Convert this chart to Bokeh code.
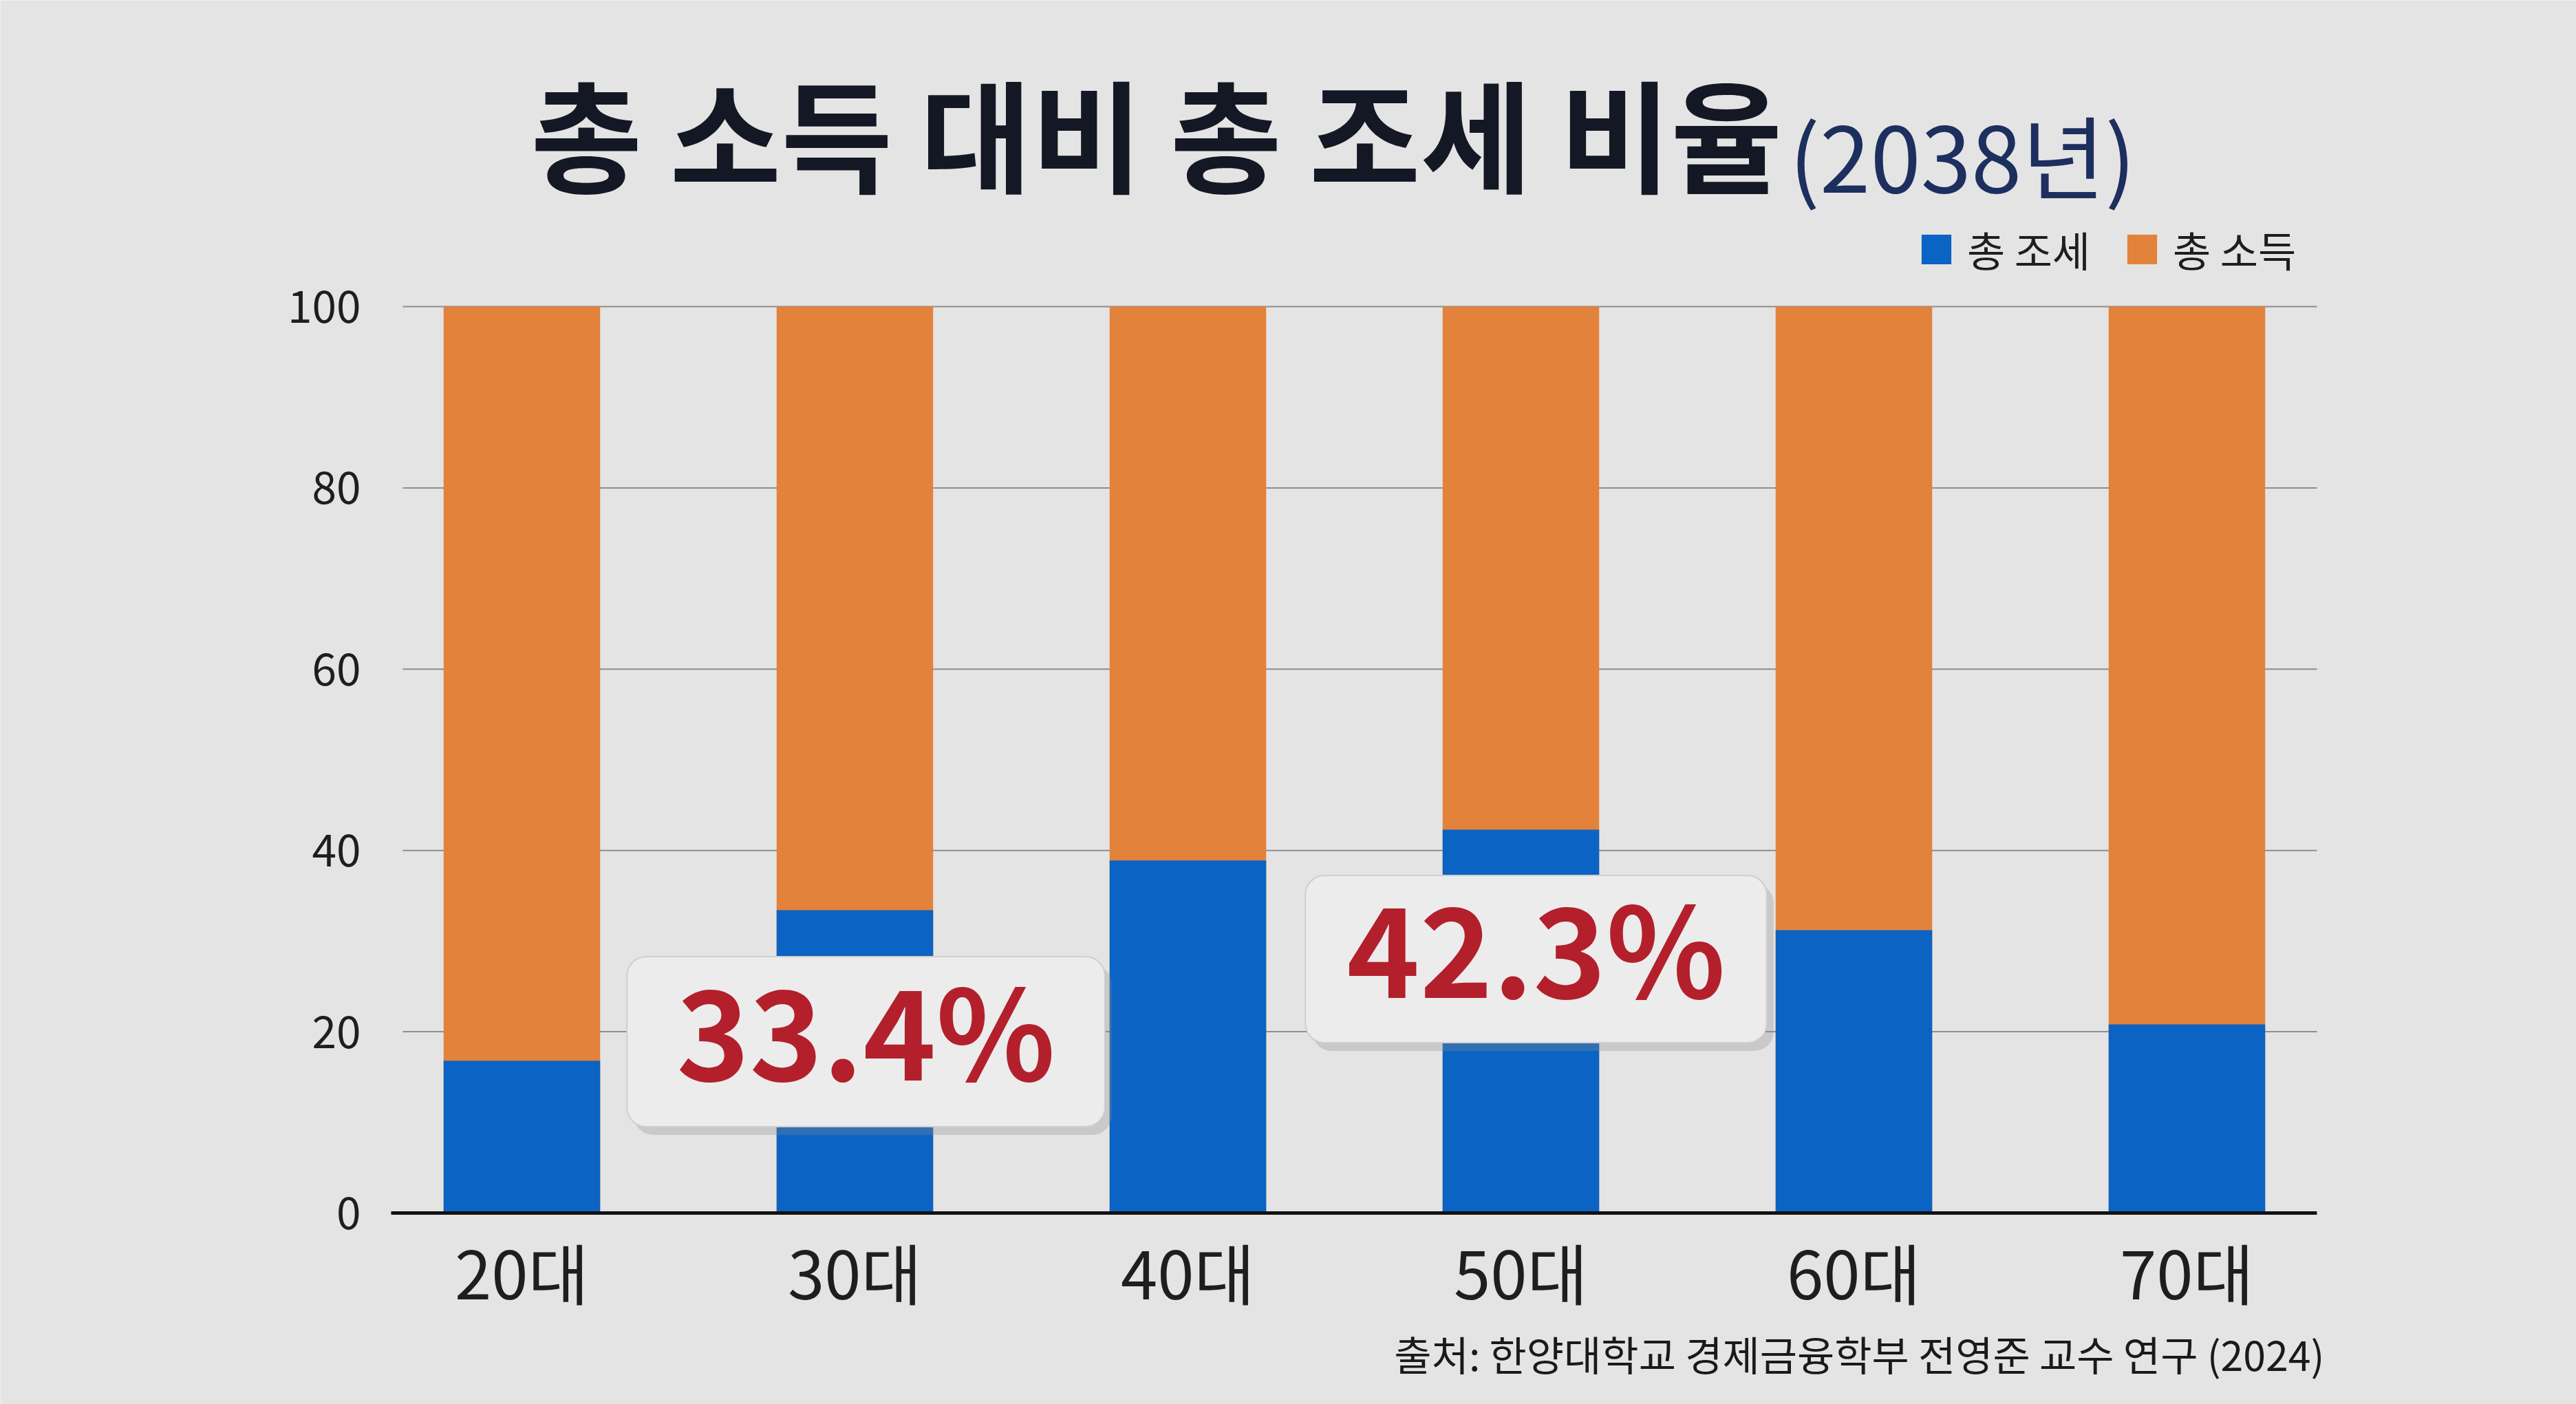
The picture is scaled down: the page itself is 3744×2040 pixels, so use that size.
from bokeh.plotting import figure
from bokeh.models import Range1d, Label, Legend, LegendItem, ColumnDataSource
from bokeh.core.properties import value
from bokeh.embed import file_html
from bokeh.resources import INLINE

# ---- data ----
categories = ["20대", "30대", "40대", "50대", "60대", "70대"]
total_tax = [16.8, 33.4, 38.9, 42.3, 31.2, 20.8]      # 총 조세 (%)
total_income = [100, 100, 100, 100, 100, 100]         # 총 소득 (%)
y_ticks = [0, 20, 40, 60, 80, 100]
y_tick_labels = ["0", "20", "40", "60", "80", "100"]
callouts = [("30대", "33.4%"), ("50대", "42.3%")]
title_main = "총 소득 대비 총 조세 비율"
title_sub = "(2038년)"
source_note = "출처: 한양대학교 경제금융학부 전영준 교수 연구 (2024)"

BLUE = "#0b63c4"
ORANGE = "#e3823b"
BG = "#e4e4e4"
BOX = "#ececec"
SHADOW = "#8a8a8a"
KR = "Noto Sans CJK KR"

W, H = 3744, 2040
# layout geometry (canvas px): category centres, value 0 / 100 rows
PX_PER_CAT = 484.0
FIRST_CENTER = 758.0
Y0, Y100 = 1762.0, 445.0
PX_PER_UNIT = (Y0 - Y100) / 100.0

x_start = -FIRST_CENTER / PX_PER_CAT
x_end = x_start + W / PX_PER_CAT
y_start = -(H - Y0) / PX_PER_UNIT
y_end = 100 + Y100 / PX_PER_UNIT

def dx(X):   # canvas x -> data x
    return x_start + X / PX_PER_CAT

def dy(Y):   # canvas y -> data y
    return y_start + (H - Y) / PX_PER_UNIT

idx = list(range(len(categories)))
src = ColumnDataSource(dict(x=idx, cat=categories, tax=total_tax, income=total_income))

p = figure(width=W, height=H, output_backend="svg", toolbar_location=None, title=None,
           x_range=Range1d(x_start, x_end), y_range=Range1d(y_start, y_end),
           x_axis_location=None, y_axis_location=None,
           min_border=0, min_border_left=0, min_border_right=0,
           min_border_top=0, min_border_bottom=0)
p.background_fill_color = BG
p.border_fill_color = BG
p.outline_line_color = None
p.grid.visible = False

# gridlines
gx0, gx1 = dx(585), dx(3367)
p.segment(x0=[gx0] * len(y_ticks[1:]), x1=[gx1] * len(y_ticks[1:]),
          y0=y_ticks[1:], y1=y_ticks[1:], line_color="#8e8e8e", line_width=2)

# bars
r_inc = p.vbar(x="x", top="income", width=0.47, source=src, color=ORANGE, line_color=None)
r_tax = p.vbar(x="x", top="tax", width=0.47, source=src, color=BLUE, line_color=None)

# baseline
p.segment(x0=[dx(568)], x1=[dx(3367)], y0=[0], y1=[0], line_color="#111111", line_width=5)

# y tick labels
p.text(x=[dx(524)] * len(y_ticks), y=y_ticks, text=y_tick_labels,
       text_font=value(KR), text_font_size="64px", text_color="#1e1e1e",
       text_align="right", text_baseline="middle")

# x category labels
p.text(x="x", y=dy(1846), text="cat", source=src,
       text_font=value(KR), text_font_size="96px", text_color="#1e1e1e",
       text_align="center", text_baseline="middle")

# title
p.add_layout(Label(x=2590, y=H - 190, x_units="screen", y_units="screen",
                   text=title_main, text_font=KR, text_font_style="bold",
                   text_font_size="176px", text_color="#141824",
                   text_align="right", text_baseline="middle"))
p.add_layout(Label(x=2600, y=H - 222, x_units="screen", y_units="screen",
                   text=title_sub, text_font=KR, text_font_style="normal",
                   text_font_size="132px", text_color="#1c2f5e",
                   text_align="left", text_baseline="middle"))

# legend
legend = Legend(items=[LegendItem(label="총 조세", renderers=[r_tax]),
                       LegendItem(label="총 소득", renderers=[r_inc])],
                orientation="horizontal", location=(2787, H - 405))
legend.glyph_width = 54
legend.glyph_height = 54
legend.label_text_font = KR
legend.label_text_font_size = "60px"
legend.label_text_color = "#1e1e1e"
legend.label_standoff = 18
legend.spacing = 48
legend.padding = 0
legend.margin = 0
legend.border_line_color = None
legend.background_fill_alpha = 0
p.add_layout(legend, "center")

# callouts: box (background-only label) + text
box_geom = {"30대": (1258, 1513, 695, 247), "50대": (2232, 1393, 670, 243)}
for cat, txt in callouts:
    X, Y, bw, bh = box_geom[cat]
    ph, pv = bw // 2, bh // 2
    p.add_layout(Label(x=X + 10, y=H - Y - 12, x_units="screen", y_units="screen",
                       text=".", text_font_size="2px", text_color=SHADOW, text_alpha=0.3,
                       text_align="center", text_baseline="middle",
                       background_fill_color=SHADOW, background_fill_alpha=0.3,
                       border_radius=28, padding=(ph, ph, pv, pv)))
    p.add_layout(Label(x=X, y=H - Y, x_units="screen", y_units="screen",
                       text=".", text_font_size="2px", text_color=BOX, text_alpha=1,
                       text_align="center", text_baseline="middle",
                       background_fill_color=BOX, background_fill_alpha=1,
                       border_line_color="#cfcfcf", border_line_width=2,
                       border_radius=28, padding=(ph, ph, pv, pv)))
    p.add_layout(Label(x=X, y=H - Y + 22, x_units="screen", y_units="screen",
                       text=txt, text_font=KR, text_font_style="bold",
                       text_font_size="180px", text_color="#b3202c",
                       text_align="center", text_baseline="middle"))

# source note
p.add_layout(Label(x=3378, y=H - 1966, x_units="screen", y_units="screen",
                   text=source_note, text_font=KR, text_font_size="59px",
                   text_color="#1a1a1a", text_align="right", text_baseline="middle"))

open("out.html", "w").write(file_html(p, INLINE))
